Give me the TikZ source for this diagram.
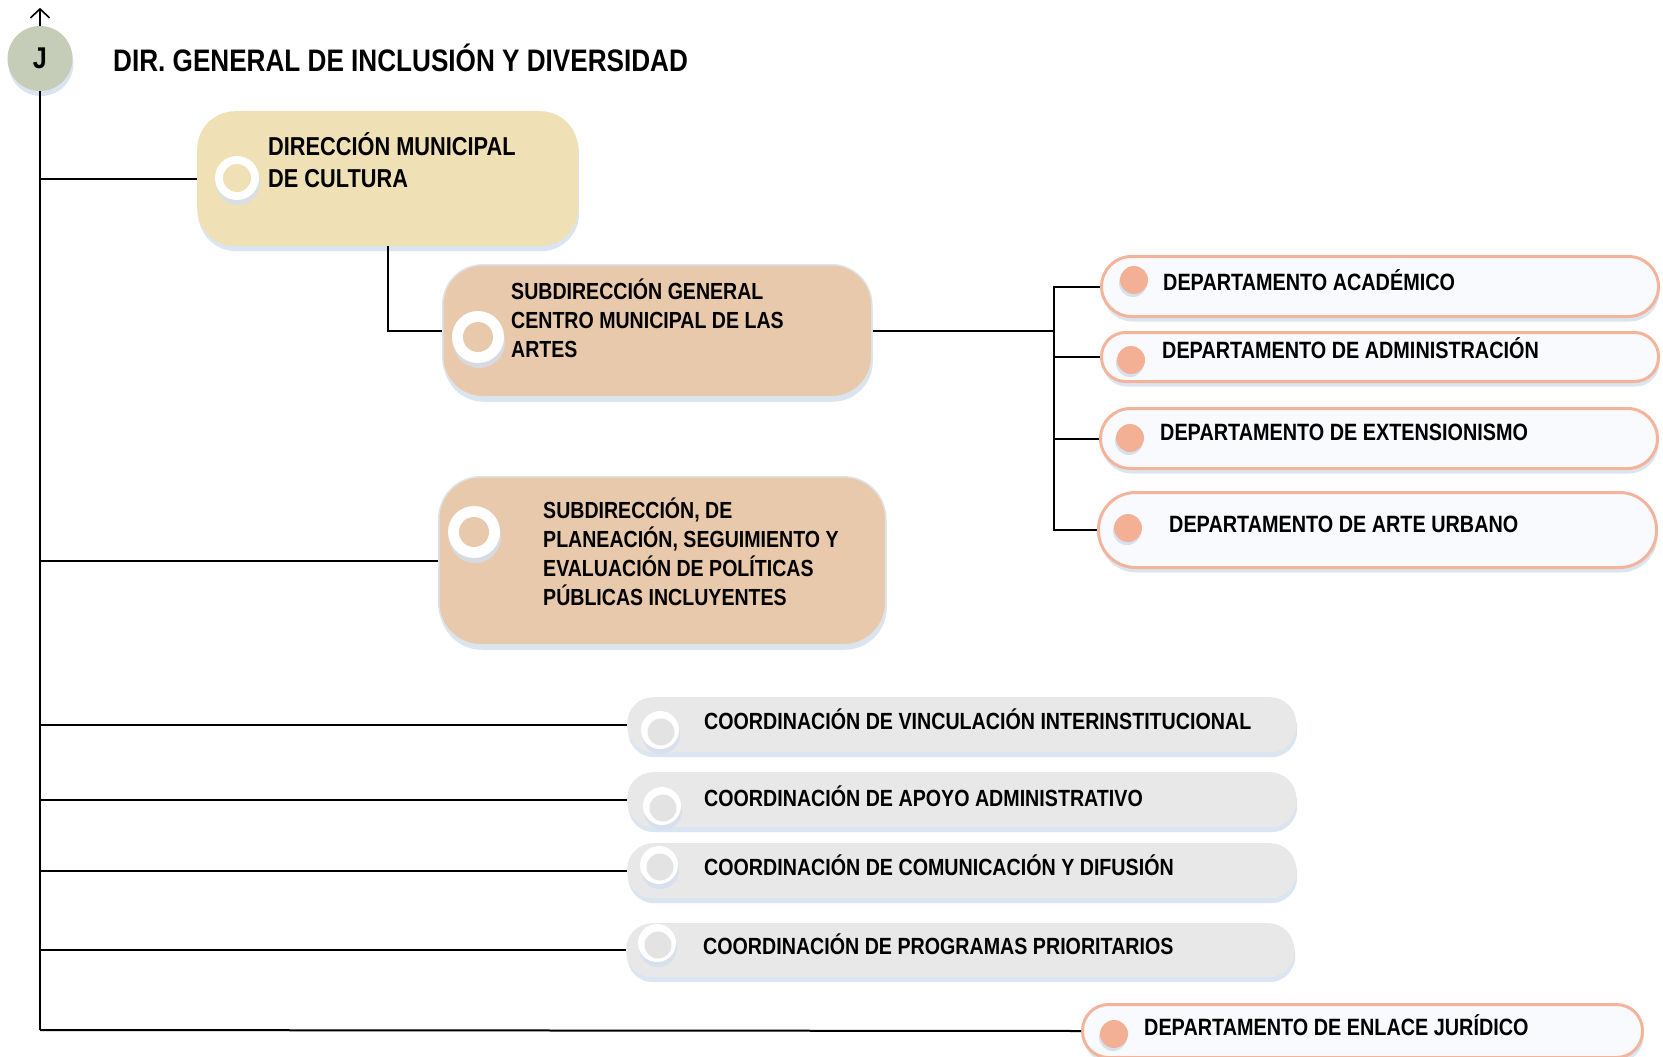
\documentclass[tikz,border=0pt]{standalone}
\usepackage{fontspec}
\setmainfont{Liberation Sans}[FakeStretch=0.84]
\usetikzlibrary{arrows.meta,shadows}
\definecolor{jcol}{HTML}{C5CCB8}
\definecolor{dircol}{HTML}{EFE0B6}
\definecolor{subcol}{HTML}{E8C9AC}
\definecolor{subline}{HTML}{DDE3EA}
\definecolor{deptline}{HTML}{F4B49B}
\definecolor{deptfill}{HTML}{F8FAFD}
\definecolor{dotcol}{HTML}{F4B095}
\definecolor{coordcol}{HTML}{E8E8E8}
\definecolor{coordin}{HTML}{E3E3E3}
\definecolor{shad}{HTML}{D3DFEE}
\begin{document}
\begin{tikzpicture}[x=1pt,y=-1pt,
  conn/.style={line width=2pt,black},
  shd/.style={drop shadow={shadow xshift=1pt,shadow yshift=-5pt,fill=shad,opacity=0.8}},
  boxbase/.style={draw=none,anchor=north west,inner sep=0pt,shd},
  dirbox/.style={boxbase,fill=dircol,rounded corners=38pt},
  subbox/.style={boxbase,fill=subcol,draw=subline,line width=1.5pt,rounded corners=40pt},
  deptbox/.style={boxbase,fill=deptfill,draw=deptline,line width=3pt},
  coordbox/.style={boxbase,fill=coordcol,rounded corners=26pt},
  ring/.style={circle,fill=white,inner sep=0pt,shd},
  dot/.style={circle,fill=dotcol,inner sep=0pt,minimum size=28pt,drop shadow={shadow xshift=-1pt,shadow yshift=-3pt,fill=shad,opacity=0.9}},
  txt/.style={anchor=base west,inner sep=0pt,align=left,font=\bfseries},
  dtxt/.style={txt,font=\bfseries\fontsize{23.6}{28}\selectfont},
  ctxt/.style={txt,font=\bfseries\fontsize{23.4}{28}\selectfont},
]
\useasboundingbox (0,0) rectangle (1663,1057);
\fill[white] (0,0) rectangle (1663,1057);

% head
\node[circle,fill=jcol,minimum size=65pt,inner sep=0pt,shd,font=\bfseries\fontsize{30}{32}\selectfont] (J) at (40,58.5) {J};
\draw[line width=1.6pt,-{Straight Barb[length=9pt,width=19pt]}] (J.north) -- ++(0,-18);
\node[txt,font=\bfseries\fontsize{31.1}{36}\selectfont] (title) at (113,72) {DIR. GENERAL DE INCLUSIÓN Y DIVERSIDAD};

% boxes
\node[dirbox,minimum width=381pt,minimum height=135pt] (dir) at (197,111) {};
\node[subbox,minimum width=429pt,minimum height=132pt] (subg) at (442,264) {};
\node[subbox,rounded corners=42pt,minimum width=447pt,minimum height=168pt] (subp) at (438,476) {};
\node[deptbox,rounded corners=30pt,minimum width=557pt,minimum height=60pt] (d1) at (1100,255) {};
\node[deptbox,rounded corners=24pt,minimum width=557pt,minimum height=49pt] (d2) at (1100,331) {};
\node[deptbox,rounded corners=30pt,minimum width=557pt,minimum height=60pt] (d3) at (1099,407) {};
\node[deptbox,rounded corners=37pt,minimum width=558pt,minimum height=75pt] (d4) at (1097,491) {};
\node[coordbox,minimum width=669pt,minimum height=55pt] (c1) at (627,697) {};
\node[coordbox,minimum width=669pt,minimum height=55pt] (c2) at (627,772) {};
\node[coordbox,minimum width=669pt,minimum height=55pt] (c3) at (627,843) {};
\node[coordbox,minimum width=668pt,minimum height=54pt] (c4) at (626,923) {};
\node[deptbox,rounded corners=26pt,minimum width=560pt,minimum height=53pt] (enl) at (1081,1003) {};

% connectors
\coordinate (jend) at (40,1030);
\coordinate (bus) at (1054,330);
\draw[conn] (J.south) -- (jend);
\draw[conn] (dir.west -| J) -- (dir.west);
\draw[conn] (subp.west -| J) -- (subp.west);
\draw[conn] (c1.west -| J) -- (c1.west);
\draw[conn] (c2.west -| J) -- (c2.west);
\draw[conn] (c3.west -| J) -- (c3.west);
\draw[conn] (c4.west -| J) -- (c4.west);
\draw[conn] (jend) -- (enl.west);
\draw[conn] (dir.south) |- (subg.west);
\draw[conn] (subg.east) -- (subg.east -| bus);
\draw[conn] (d1.west) -- (d1.west -| bus) -- (d4.west -| bus) -- (d4.west);
\draw[conn] (d2.west -| bus) -- (d2.west);
\draw[conn] (d3.west -| bus) -- (d3.west);

% rings and dots
\node[ring,minimum size=44pt] (r0) at (237,178) {};
\node[circle,fill=dircol,inner sep=0pt,minimum size=28pt] (r0i) at (r0) {};
\node[ring,minimum size=52pt] (r1) at (478,337) {};
\node[circle,fill=subcol,inner sep=0pt,minimum size=30pt] (r1i) at (r1) {};
\node[ring,minimum size=52pt] (r2) at (474,532) {};
\node[circle,fill=subcol,inner sep=0pt,minimum size=30pt] (r2i) at (r2) {};
\node[ring,minimum size=38pt] (q1) at (660,730) {};
\node[circle,fill=coordin,inner sep=0pt,minimum size=27pt] (q1i) at ([xshift=1pt,yshift=-2pt]q1.center) {};
\node[ring,minimum size=38pt] (q2) at (662,806) {};
\node[circle,fill=coordin,inner sep=0pt,minimum size=27pt] (q2i) at ([xshift=1pt,yshift=-2pt]q2.center) {};
\node[ring,minimum size=38pt] (q3) at (659,865) {};
\node[circle,fill=coordin,inner sep=0pt,minimum size=27pt] (q3i) at ([xshift=1pt,yshift=-2pt]q3.center) {};
\node[ring,minimum size=38pt] (q4) at (657,943) {};
\node[circle,fill=coordin,inner sep=0pt,minimum size=27pt] (q4i) at ([xshift=1pt,yshift=-2pt]q4.center) {};
\node[dot] (p1) at (1134,280) {};
\node[dot] (p2) at (1131,360) {};
\node[dot] (p3) at (1130,438) {};
\node[dot] (p4) at (1128,528) {};
\node[dot] (p5) at (1114,1034) {};

% texts (multi-line: base = last line)
\node[txt,font=\bfseries\fontsize{25.9}{32}\selectfont] (tdir) at (268,187) {DIRECCIÓN MUNICIPAL\\DE CULTURA};
\node[txt,font=\bfseries\fontsize{23.3}{29}\selectfont] (tsubg) at (511,357) {SUBDIRECCIÓN GENERAL\\CENTRO MUNICIPAL DE LAS\\ARTES};
\node[txt,font=\bfseries\fontsize{23.3}{28.7}\selectfont] (tsubp) at (543,605) {SUBDIRECCIÓN, DE\\PLANEACIÓN, SEGUIMIENTO Y\\EVALUACIÓN DE POLÍTICAS\\PÚBLICAS INCLUYENTES};
\node[dtxt] (td1) at (1163,290) {DEPARTAMENTO ACADÉMICO};
\node[dtxt] (td2) at (1162,358) {DEPARTAMENTO DE ADMINISTRACIÓN};
\node[dtxt] (td3) at (1160,440) {DEPARTAMENTO DE EXTENSIONISMO};
\node[dtxt] (td4) at (1169,532) {DEPARTAMENTO DE ARTE URBANO};
\node[ctxt] (tc1) at (704,729) {COORDINACIÓN DE VINCULACIÓN INTERINSTITUCIONAL};
\node[ctxt] (tc2) at (704,806) {COORDINACIÓN DE APOYO ADMINISTRATIVO};
\node[ctxt] (tc3) at (704,875) {COORDINACIÓN DE COMUNICACIÓN Y DIFUSIÓN};
\node[ctxt] (tc4) at (703,954) {COORDINACIÓN DE PROGRAMAS PRIORITARIOS};
\node[dtxt] (tenl) at (1144,1035) {DEPARTAMENTO DE ENLACE JURÍDICO};
\end{tikzpicture}
\end{document}
